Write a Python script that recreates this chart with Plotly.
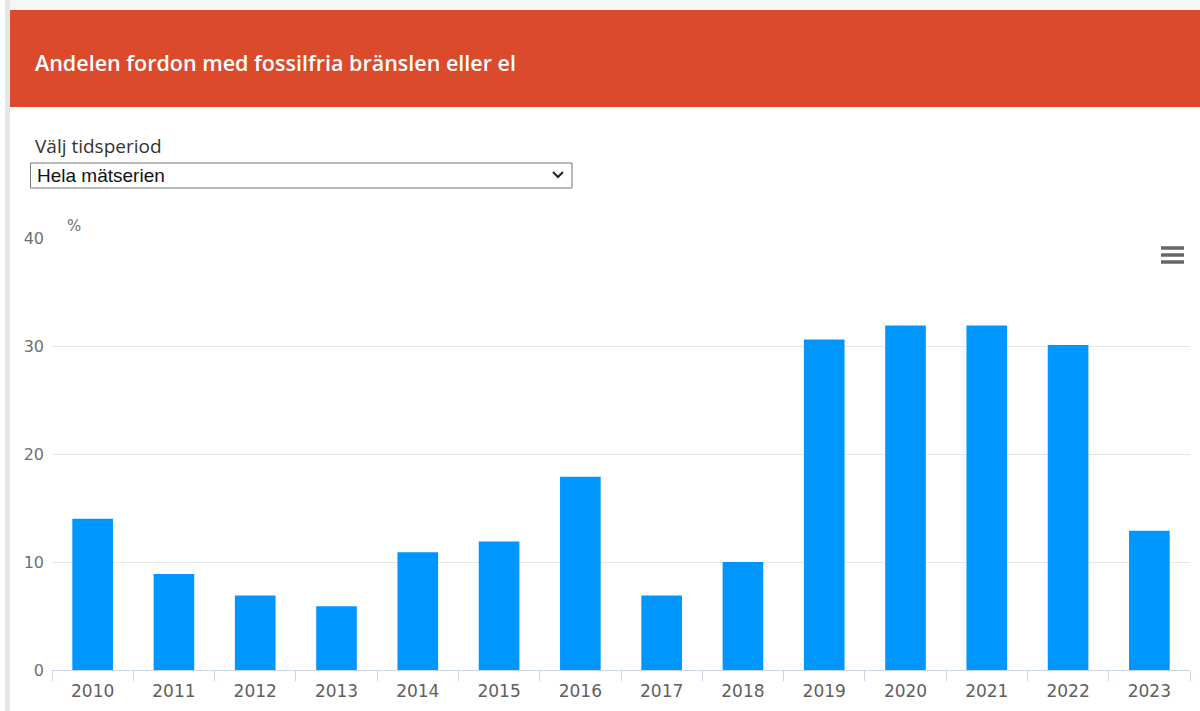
import plotly.graph_objects as go

years = ["2010", "2011", "2012", "2013", "2014", "2015", "2016",
         "2017", "2018", "2019", "2020", "2021", "2022", "2023"]
shares = [14, 8.9, 6.9, 5.9, 10.9, 11.9, 17.9, 6.9, 10, 30.6, 31.9, 31.9, 30.1, 12.9]
y_ticks = [0, 10, 20, 30, 40]

title_text = "Andelen fordon med fossilfria bränslen eller el"
select_label = "Välj tidsperiod"
select_value = "Hela mätserien"
unit_label = "%"

W, H = 1200, 711
L, R, T, B = 52, 10, 238, 41
PW, PH = W - L - R, H - T - B


def fx(px):
    return (px - L) / PW


def fy(py):
    return (H - B - py) / PH


fig = go.Figure(go.Bar(
    x=years, y=shares,
    marker=dict(color="#0096FF", line=dict(width=0)),
    hoverinfo="x+y",
))

shapes = [
    dict(type="rect", xref="paper", yref="paper", x0=fx(5), x1=fx(10), y0=fy(0), y1=fy(H),
         fillcolor="#e6e6e6", line=dict(width=0), layer="below"),
    dict(type="rect", xref="paper", yref="paper", x0=fx(10), x1=fx(W), y0=fy(0), y1=fy(10),
         fillcolor="#f6f6f6", line=dict(width=0), layer="below"),
    dict(type="rect", xref="paper", yref="paper", x0=fx(10), x1=fx(W), y0=fy(10), y1=fy(107),
         fillcolor="#DB4A2B", line=dict(width=0)),
    dict(type="rect", xref="paper", yref="paper", x0=fx(30.5), x1=fx(572), y0=fy(163), y1=fy(188),
         fillcolor="white", line=dict(width=1, color="#767676")),
    dict(type="path", xref="paper", yref="paper",
         path=f"M{fx(553)},{fy(172)} L{fx(558)},{fy(177)} L{fx(563)},{fy(172)}",
         line=dict(width=2, color="#222")),
]
for yy in (248, 255, 262):
    shapes.append(dict(type="line", xref="paper", yref="paper",
                       x0=fx(1161), x1=fx(1184), y0=fy(yy), y1=fy(yy),
                       line=dict(width=3.5, color="#666666")))

annotations = [
    dict(text=title_text, xref="paper", yref="paper", x=fx(33), y=fy(62),
         xanchor="left", yanchor="middle", showarrow=False,
         font=dict(family="Open Sans", size=21.5, color="white", weight=600)),
    dict(text=select_label, xref="paper", yref="paper", x=fx(33), y=fy(146),
         xanchor="left", yanchor="middle", showarrow=False,
         font=dict(family="Open Sans", size=19, color="#333333")),
    dict(text=select_value, xref="paper", yref="paper", x=fx(35), y=fy(176),
         xanchor="left", yanchor="middle", showarrow=False,
         font=dict(family="Liberation Sans", size=19, color="#111111")),
    dict(text=unit_label, xref="paper", yref="paper", x=fx(65), y=fy(226),
         xanchor="left", yanchor="middle", showarrow=False,
         font=dict(family="DejaVu Sans", size=15, color="#707070")),
]

fig.update_layout(
    width=W, height=H,
    margin=dict(l=L, r=R, t=T, b=B, autoexpand=False),
    paper_bgcolor="white", plot_bgcolor="white",
    showlegend=False, bargap=0.5,
    shapes=shapes, annotations=annotations,
    font=dict(family="DejaVu Sans", color="#707070"),
)
fig.update_xaxes(
    type="category", tickson="boundaries", ticks="outside", ticklen=10,
    tickcolor="#ccd6eb", tickwidth=1, showline=True, linecolor="#ccd6eb", linewidth=1,
    showgrid=False, ticklabelstandoff=6,
    tickfont=dict(family="DejaVu Sans", size=17, color="#606060"),
    fixedrange=True,
)
fig.update_yaxes(
    range=[0, 40], tickvals=y_ticks, showgrid=True, gridcolor="#e6e6e6", gridwidth=1,
    zeroline=False, showline=False, ticks="", ticklabelstandoff=7,
    tickfont=dict(family="DejaVu Sans", size=16, color="#707070"),
    fixedrange=True,
)

fig.write_html("out.html", config={"displayModeBar": False},
               post_script="document.body.style.margin='0';document.documentElement.style.overflow='hidden';")
